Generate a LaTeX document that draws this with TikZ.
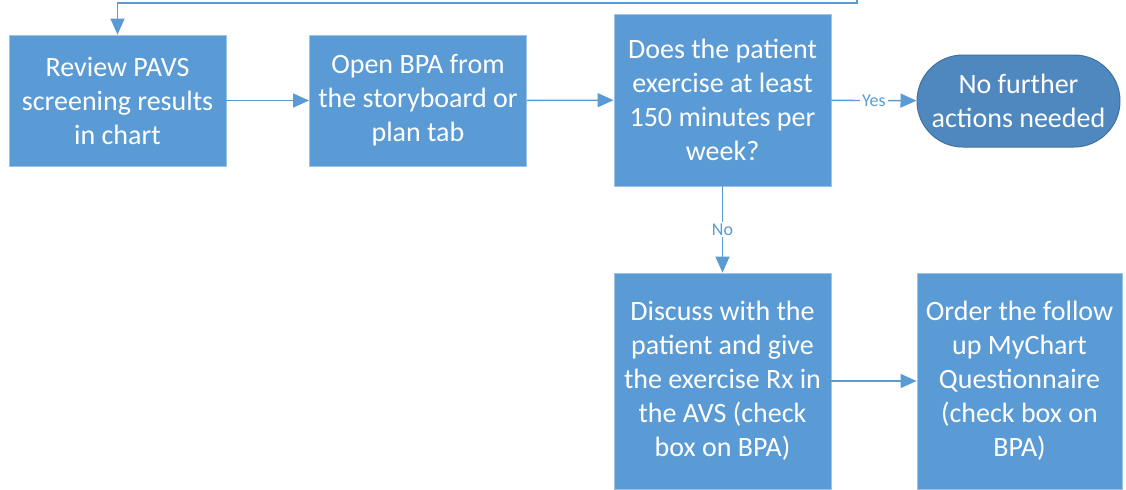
\documentclass[tikz,border=0pt]{standalone}
\usepackage{fontspec}
\setmainfont{Carlito}
\usetikzlibrary{arrows.meta,shapes.misc}
\definecolor{boxblue}{HTML}{5B9BD5}
\definecolor{endblue}{HTML}{4F87BF}
\definecolor{edgeblue}{HTML}{41719C}
\begin{document}
\begin{tikzpicture}[x=0.5pt,y=-0.5pt,
  stepbox/.style={rectangle,draw=boxblue!60!white,line width=0.4pt,fill=boxblue,
    text=white,font=\fontsize{14}{17}\selectfont,align=center,inner sep=0pt},
  endbox/.style={rounded rectangle,draw=edgeblue,line width=0.5pt,fill=endblue,
    text=white,font=\fontsize{14}{17}\selectfont,align=center,inner sep=0pt},
  flow/.style={draw=boxblue,line width=0.7pt,-{Triangle[length=8pt,width=7pt]}},
  tag/.style={fill=white,text=boxblue,font=\fontsize{9}{11}\selectfont,inner sep=1pt}]
\useasboundingbox (0,0) rectangle (1126,489);
\node[stepbox,minimum width=108.5pt,minimum height=65.5pt] (review) at (117.5,100.5) {Review PAVS\\screening results\\in chart};
\node[stepbox,minimum width=108.5pt,minimum height=65.5pt] (open) at (418,100.5) {Open BPA from\\the storyboard or\\plan tab};
\node[stepbox,minimum width=108.5pt,minimum height=86pt] (ask) at (722.5,100) {Does the patient\\exercise at least\\150 minutes per\\week?};
\node[endbox,minimum width=101.5pt,minimum height=46pt] (done) at (1018.5,101) {No further\\actions needed};
\node[stepbox,minimum width=108.5pt,minimum height=108pt] (discuss) at (722.5,381) {Discuss with the\\patient and give\\the exercise Rx in\\the AVS (check\\box on BPA)};
\node[stepbox,minimum width=102.5pt,minimum height=108pt] (order) at (1019.5,381) {Order the follow\\up MyChart\\Questionnaire\\(check box on\\BPA)};
\coordinate (back) at (857,0);
\coordinate (turn) at (857,3);
% connectors
\draw[flow] (review) -- (open);
\draw[flow] (open) -- (ask);
\draw[flow] (ask) -- node[tag] {Yes} (done);
\draw[flow] (ask) -- node[tag] {No} (discuss);
\draw[flow] (discuss) -- (order);
\draw[flow] (back) -- (turn) -| (review.north);
\end{tikzpicture}
\end{document}
